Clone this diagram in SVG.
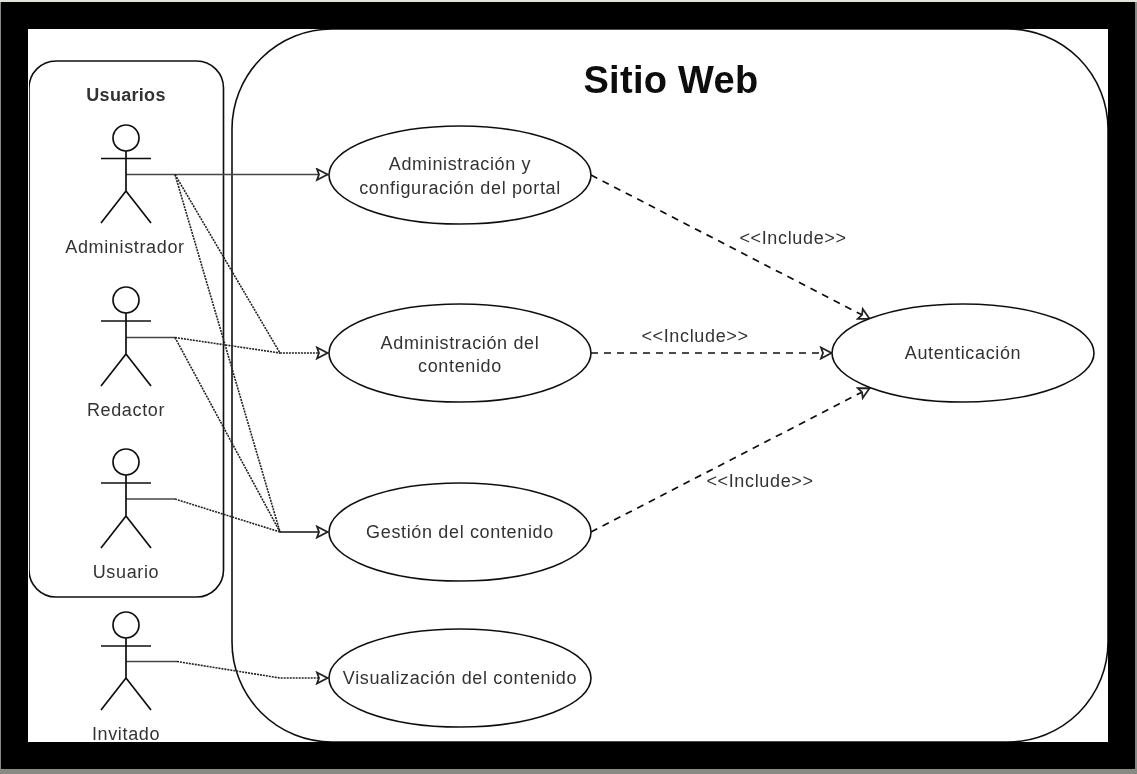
<svg xmlns="http://www.w3.org/2000/svg" width="1137" height="774" viewBox="0 0 1137 774">
<style>
.n{fill:#fff;stroke:#111;stroke-width:1.6}
.a{fill:none;stroke:#111;stroke-width:1.7}
text{font-family:"Liberation Sans",Arial,sans-serif;font-size:18px;letter-spacing:.65px;fill:#333;text-anchor:middle}
.c{fill:none;stroke:#444;stroke-width:1.3}
.d{fill:none;stroke:#222;stroke-width:1.6;stroke-dasharray:2 1}
.i{fill:none;stroke:#111;stroke-width:1.7;stroke-dasharray:7 6}
</style>
<defs>
<marker id="o" markerUnits="userSpaceOnUse" markerWidth="16" markerHeight="14" refX="13" refY="7" orient="auto"><path d="M2 1.500L12.500 7L2 12.500L4 7Z" fill="#fff" stroke="#222" stroke-width="1.8"/></marker>
<filter id="soft" x="0" y="0" width="1" height="1"><feGaussianBlur stdDeviation="0.45"/></filter>
</defs>
<rect width="1137" height="774" fill="#8a8a85"/>
<rect width="1137" height="2" fill="#e4e2dc"/>
<rect x="1" y="2" width="1134" height="767" fill="#000"/>
<rect x="28" y="29" width="1080" height="713" fill="#fff"/>
<svg x="28" y="29" width="1080" height="713" viewBox="28 29 1080 713">
<g filter="url(#soft)">
<g id="sitio"><rect x="232" y="29" width="876" height="713" rx="100" ry="100" fill="none" stroke="#111" stroke-width="1.6"/></g>
<g id="usuarios"><rect x="29" y="61" width="194.500" height="536" rx="27" ry="27" fill="none" stroke="#111" stroke-width="1.6"/></g>
<g id="connectors">
<path class="c" d="M126 174.500H328" marker-end="url(#o)"/>
<path class="d" d="M175 174.500L280 353H328" marker-end="url(#o)"/>
<path class="d" d="M175 174.500L280 532"/>
<path class="c" d="M126 337.500H175"/>
<path class="d" d="M175 337.500L280 353"/>
<path class="d" d="M175 337.500L280 532"/>
<path class="c" d="M126 499H175"/>
<path class="d" d="M175 499L280 532"/>
<path class="a" d="M280 532H328" marker-end="url(#o)"/>
<path class="c" d="M126 661.500H177"/>
<path class="d" d="M177 661.500L280 678H328" marker-end="url(#o)"/>
<path class="i" d="M591 175L870 319" marker-end="url(#o)"/>
<path class="i" d="M591 353H832" marker-end="url(#o)"/>
<path class="i" d="M591 532L870 388" marker-end="url(#o)"/>
</g>
<g id="actor-administrador"><circle class="a" cx="126" cy="138" r="13"/><path class="a" d="M126 151V191M101 158.500H151M126 191L101 223M126 191L151 223"/><text x="125" y="253">Administrador</text></g>
<g id="actor-redactor"><circle class="a" cx="126" cy="300" r="13"/><path class="a" d="M126 313V354M101 321H151M126 354L101 386M126 354L151 386"/><text x="126" y="416">Redactor</text></g>
<g id="actor-usuario"><circle class="a" cx="126" cy="462" r="13"/><path class="a" d="M126 475V516M101 483H151M126 516L101 548M126 516L151 548"/><text x="126" y="578">Usuario</text></g>
<g id="actor-invitado"><circle class="a" cx="126" cy="625" r="13"/><path class="a" d="M126 638V678M101 646H151M126 678L101 710M126 678L151 710"/><text x="126" y="740">Invitado</text></g>
<g id="uc1"><ellipse class="n" cx="460" cy="175" rx="131" ry="49"/><text x="460" y="170">Administración y</text><text x="460" y="194">configuración del portal</text></g>
<g id="uc2"><ellipse class="n" cx="460" cy="353" rx="131" ry="49"/><text x="460" y="349">Administración del</text><text x="460" y="372">contenido</text></g>
<g id="uc3"><ellipse class="n" cx="460" cy="532" rx="131" ry="49"/><text x="460" y="538">Gestión del contenido</text></g>
<g id="uc4"><ellipse class="n" cx="460" cy="678" rx="131" ry="49"/><text x="460" y="684">Visualización del contenido</text></g>
<g id="uc5"><ellipse class="n" cx="963" cy="353" rx="131" ry="49"/><text x="963" y="359">Autenticación</text></g>
<text x="793" y="244">&lt;&lt;Include&gt;&gt;</text>
<text x="695" y="342">&lt;&lt;Include&gt;&gt;</text>
<text x="760" y="487">&lt;&lt;Include&gt;&gt;</text>
<text x="126" y="101" style="font-weight:bold;letter-spacing:.3px">Usuarios</text>
<text x="671" y="93" style="font-weight:bold;font-size:38px;letter-spacing:.3px;fill:#111">Sitio Web</text>
</g>
</svg>
</svg>
